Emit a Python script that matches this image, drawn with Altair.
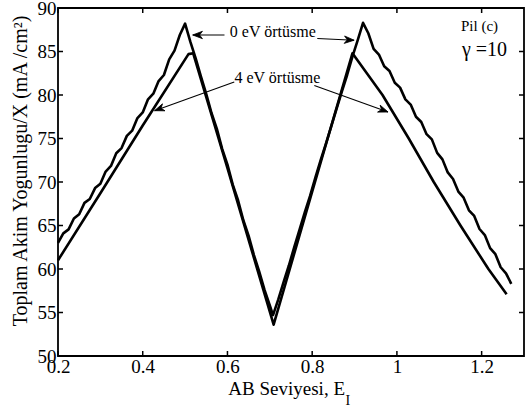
import altair as alt
import pandas as pd

# ---- data ----
A_x = [0.2, 0.2125, 0.225, 0.2375, 0.25, 0.2625, 0.275, 0.2875, 0.3, 0.3125, 0.325, 0.3375,
       0.35, 0.3625, 0.375, 0.3875, 0.4, 0.4125, 0.425, 0.4375, 0.45, 0.4625, 0.475, 0.4875, 0.5,
       0.5125, 0.525, 0.5375, 0.55, 0.5625, 0.575, 0.5875, 0.6, 0.6125, 0.625, 0.6375, 0.65,
       0.6625, 0.675, 0.6875, 0.7, 0.7075,
       0.72, 0.7325, 0.745, 0.7575, 0.77, 0.7825, 0.795, 0.8075, 0.82, 0.8325, 0.845, 0.8575,
       0.87, 0.8825, 0.895, 0.9075, 0.92,
       0.9325, 0.945, 0.9575, 0.97, 0.9825, 0.995, 1.0075, 1.02, 1.0325, 1.045, 1.0575, 1.07,
       1.0825, 1.095, 1.1075, 1.12, 1.1325, 1.145, 1.1575, 1.17, 1.1825, 1.195, 1.2075, 1.22,
       1.2325, 1.245, 1.2575, 1.27]
A_y = [63.0, 64.1, 64.55, 65.8, 66.3, 67.6, 68.05, 69.3, 69.8, 71.2, 71.85, 73.3, 73.9, 75.3,
       75.9, 77.35, 78.0, 79.5, 80.15, 81.6, 82.3, 84.1, 85.1, 86.9, 88.2,
       86.1, 84.2, 82.1, 80.1, 77.9, 76.1, 73.8, 72.0, 69.7, 67.9, 65.6, 63.8, 61.6, 59.7, 57.6,
       55.8, 54.7,
       56.5, 58.5, 60.4, 62.5, 64.5, 66.5, 68.4, 70.5, 72.5, 74.4, 76.4, 78.4, 80.4, 82.3, 84.4,
       86.3, 88.3,
       87.1, 85.3, 84.65, 83.3, 82.75, 81.4, 80.85, 79.5, 78.9, 77.5, 76.9, 75.5, 74.9, 73.35,
       72.6, 71.1, 70.35, 68.9, 68.2, 66.75, 66.1, 64.6, 63.9, 62.4, 61.7, 60.2, 59.5, 58.3]

B_x = [0.2, 0.3, 0.4, 0.508, 0.519, 0.6, 0.709, 0.8, 0.895, 0.966, 1.028, 1.087, 1.15, 1.216, 1.259]
B_y = [61.0, 68.7, 76.5, 84.7, 84.8, 71.6, 53.6, 68.9, 84.8, 80.0, 75.0, 70.0, 65.0, 60.0, 57.1]

x_ticks = [0.2, 0.4, 0.6, 0.8, 1.0, 1.2]
y_ticks = [50, 55, 60, 65, 70, 75, 80, 85, 90]

# annotation arrows: start (x1,y1) -> tip (x2,y2), head angle in degrees
arr_x1 = [0.593, 0.812, 0.616, 0.805]
arr_y1 = [86.9, 86.5, 81.5, 81.1]
arr_x2 = [0.518, 0.899, 0.428, 0.979]
arr_y2 = [86.9, 86.3, 78.2, 78.05]
arr_ang = [180, 3, 160, 20]

lab_text = ["0 eV örtüsme", "4 eV örtüsme"]
lab_x = [0.707, 0.718]
lab_y = [86.7, 81.4]

W, H = 466, 348
FONT = "Liberation Serif"

df = pd.concat([
    pd.DataFrame({"x": A_x, "y": A_y, "s": "0 eV", "o": range(len(A_x))}),
    pd.DataFrame({"x": B_x, "y": B_y, "s": "4 eV", "o": range(len(B_x))}),
])

xs = alt.Scale(domain=[0.2, 1.3], nice=False, zero=False)
ys = alt.Scale(domain=[50, 90], nice=False, zero=False)

lines = alt.Chart(df).mark_line(color="black", strokeWidth=2.6, strokeJoin="round").encode(
    x=alt.X("x:Q", scale=xs, axis=alt.Axis(values=x_ticks, format="~g", title="",
                                           labelPadding=1, labelFlush=False,
                                           labelFont=FONT, labelFontSize=19)),
    y=alt.Y("y:Q", scale=ys, axis=alt.Axis(values=y_ticks, title="", labelPadding=2,
                                           labelFlush=False, labelFont=FONT,
                                           labelFontSize=19)),
    detail="s:N",
    order="o:Q",
)

xt = pd.DataFrame({"x": x_ticks})
yt = pd.DataFrame({"y": y_ticks})
tick_style = dict(color="black", strokeWidth=1.5)
bt = alt.Chart(xt).mark_rule(**tick_style).encode(x="x:Q", y=alt.value(H), y2=alt.value(H - 5))
tt = alt.Chart(xt).mark_rule(**tick_style).encode(x="x:Q", y=alt.value(0), y2=alt.value(5))
lt = alt.Chart(yt).mark_rule(**tick_style).encode(y="y:Q", x=alt.value(0), x2=alt.value(5))
rt = alt.Chart(yt).mark_rule(**tick_style).encode(y="y:Q", x=alt.value(W), x2=alt.value(W - 5))

adf = pd.DataFrame({"x1": arr_x1, "y1": arr_y1, "x2": arr_x2, "y2": arr_y2, "a": arr_ang})
arrow_lines = alt.Chart(adf).mark_rule(color="black", strokeWidth=1.1).encode(
    x="x1:Q", y="y1:Q", x2="x2:Q", y2="y2:Q")
heads = alt.Chart(adf).mark_point(
    shape="M0,0 L-1,-0.38 L-0.7,0 L-1,0.38 Z", filled=True, color="black",
    size=380, opacity=1, strokeWidth=0.8, stroke="black").encode(
    x="x2:Q", y="y2:Q", angle=alt.Angle("a:Q", scale=None))

ldf = pd.DataFrame({"t": lab_text, "x": lab_x, "y": lab_y})
labels = alt.Chart(ldf).mark_text(font=FONT, fontSize=16, baseline="alphabetic",
                                  align="center", color="black").encode(
    x="x:Q", y="y:Q", text="t:N")

one = pd.DataFrame({"k": [0]})
pil = alt.Chart(one).mark_text(text="Pil (c)", font=FONT, fontSize=15, align="left",
                               baseline="alphabetic", color="black").encode(
    x=alt.value(403), y=alt.value(23))
gam = alt.Chart(one).mark_text(text="γ =10", font=FONT, fontSize=20, align="left",
                               baseline="alphabetic", color="black").encode(
    x=alt.value(404), y=alt.value(48))

ytitle = alt.Chart(one).mark_text(text="Toplam Akim Yogunlugu/X (mA /cm²)", font=FONT,
                                  fontSize=20, angle=270, align="center",
                                  baseline="alphabetic", color="black").encode(
    x=alt.value(-31), y=alt.value(163))
xtitle = alt.Chart(one).mark_text(text="AB Seviyesi, E", font=FONT, fontSize=19,
                                  align="right", baseline="alphabetic", color="black").encode(
    x=alt.value(287), y=alt.value(387))
xsub = alt.Chart(one).mark_text(text="I", font=FONT, fontSize=14, align="left",
                                baseline="alphabetic", color="black").encode(
    x=alt.value(287.5), y=alt.value(397))

chart = alt.layer(
    lines, bt, tt, lt, rt, arrow_lines, heads, labels, pil, gam, ytitle, xtitle, xsub
).properties(
    width=W, height=H,
    autosize=alt.AutoSizeParams(type="none"),
    padding={"left": 58, "top": 8, "right": 3, "bottom": 58},
    background="white",
).configure_view(
    stroke="black", strokeWidth=1.8
).configure_axis(
    domain=False, ticks=False, grid=False,
    labelFont=FONT, labelFontSize=19, labelColor="black",
)

chart.save("out.html", embed_options={"renderer": "svg", "actions": False})
